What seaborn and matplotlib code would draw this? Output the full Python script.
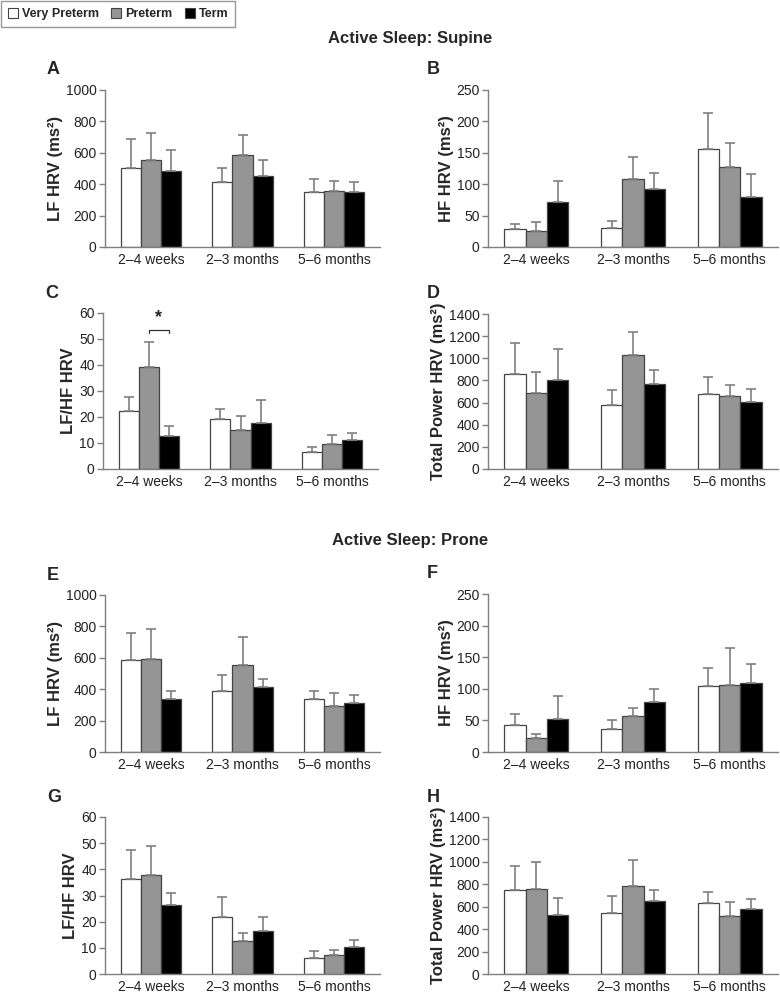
import numpy as np
import pandas as pd
import matplotlib
matplotlib.use("Agg")
import matplotlib.pyplot as plt
import seaborn as sns
from matplotlib.patches import Patch

W, H = 780, 993

ages = ["2–4 weeks", "2–3 months", "5–6 months"]
groups = ["Very Preterm", "Preterm", "Term"]

# means [group][age], sem = upward error bar length
sup_lf = [[506, 411, 351], [557, 583, 357], [485, 451, 351]]
sup_lf_err = [[185, 95, 85], [171, 130, 64], [136, 106, 64]]
sup_hf = [[29, 31, 156], [25.5, 109, 128], [71, 92.5, 80]]
sup_hf_err = [[7, 10.5, 57], [14.5, 35, 38], [34, 25.5, 36.5]]
sup_ratio = [[22.2, 19.2, 6.4], [39.2, 14.9, 9.6], [12.6, 17.7, 11.3]]
sup_ratio_err = [[5.4, 3.9, 1.9], [9.6, 5.4, 3.6], [3.8, 8.7, 2.5]]
sup_tot = [[861, 574, 676], [688, 1032, 658], [808, 772, 607]]
sup_tot_err = [[279, 144, 156], [191, 203, 105], [278, 122, 117]]

pro_lf = [[589, 387, 340], [591, 553, 291], [340, 411, 315]]
pro_lf_err = [[166, 102, 49], [194, 177, 86], [51, 57, 51]]
pro_hf = [[43.3, 37, 104], [22.7, 56.6, 105.7], [52.9, 79.3, 108.4]]
pro_hf_err = [[16.4, 13.2, 29], [6.3, 13.7, 59.3], [35.9, 21.1, 31.1]]
pro_ratio = [[36.4, 21.8, 6.1], [37.7, 12.5, 7.1], [26.4, 16.6, 10.3]]
pro_ratio_err = [[10.9, 7.5, 2.6], [11.1, 3.2, 1.9], [4.4, 5.1, 2.6]]
pro_tot = [[752, 544, 633], [758, 782, 520], [529, 648, 580]]
pro_tot_err = [[208, 155, 101], [238, 238, 125], [149, 104, 89]]

sns.set_theme(style="white")
plt.rcParams["font.family"] = ["Liberation Sans Narrow", "Liberation Sans", "DejaVu Sans"]

colors = {"Very Preterm": "#ffffff", "Preterm": "#959595", "Term": "#000000"}
GRAY = "#7f7f7f"

fig = plt.figure(figsize=(W / 100, H / 100), dpi=100)


def px_axes(left, top, right, bottom):
    return fig.add_axes([left / W, 1 - bottom / H, (right - left) / W, (bottom - top) / H])


def panel(box, vals, errs, ymax, ystep, ylabel, letter, right=False):
    ax = px_axes(*box)
    df = pd.DataFrame([(a, g, vals[i][j]) for i, g in enumerate(groups)
                       for j, a in enumerate(ages)], columns=["age", "group", "value"])
    sns.barplot(data=df, x="age", y="value", hue="group", order=ages, hue_order=groups,
                palette=colors, width=0.66, errorbar=None, edgecolor="#444444",
                linewidth=0.9, legend=False, ax=ax)
    for cont, e in zip(ax.containers, errs):
        for bar, err in zip(cont, e):
            ax.errorbar(bar.get_x() + bar.get_width() / 2, bar.get_height(),
                        yerr=[[0], [err]], fmt="none", ecolor=GRAY, elinewidth=1.2,
                        capsize=3.5, capthick=1.2, zorder=1)
    ax.set_ylim(0, ymax)
    ax.set_yticks(np.arange(0, ymax + 1, ystep))
    ax.set_xlim(-0.5, 2.5 if right else 2.36)
    ax.set_xlabel("")
    ax.set_ylabel(ylabel, fontsize=12, fontweight="bold", family=["Liberation Sans"],
                  labelpad=2)
    for s in ["top", "right"]:
        ax.spines[s].set_visible(False)
    for s in ["left", "bottom"]:
        ax.spines[s].set_color(GRAY)
        ax.spines[s].set_linewidth(1.0)
    ax.tick_params(axis="x", which="major", length=0, labelsize=10, pad=4, colors="#222222")
    ax.set_xticks([-0.5, 0.5, 1.5, 2.5], minor=True)
    ax.tick_params(axis="x", which="minor", length=5, direction="out", color=GRAY, width=1)
    ax.tick_params(axis="y", length=4, direction="out", color=GRAY, width=1, labelsize=10,
                   pad=2, left=True)
    ax.tick_params(axis="y", colors=GRAY, labelcolor="#222222")
    lx = box[0] - 58 if not right else box[0] - 61
    fig.text(lx / W, 1 - (box[1] - 20) / H, letter, fontsize=13, fontweight="bold",
             family=["Liberation Sans"], ha="left", va="center")
    return ax


panel((105, 90, 380, 247), sup_lf, sup_lf_err, 1000, 200, "LF HRV (ms²)", "A")
panel((488, 90, 778, 247), sup_hf, sup_hf_err, 250, 50, "HF HRV (ms²)", "B", right=True)
axC = panel((103, 313, 378, 469), sup_ratio, sup_ratio_err, 60, 10, "LF/HF HRV", "C")
panel((488, 314, 778, 469), sup_tot, sup_tot_err, 1400, 200, "Total Power HRV (ms²)", "D", right=True)
panel((105, 595, 380, 752), pro_lf, pro_lf_err, 1000, 200, "LF HRV (ms²)", "E")
panel((488, 594, 778, 752), pro_hf, pro_hf_err, 250, 50, "HF HRV (ms²)", "F", right=True)
panel((105, 817, 380, 974), pro_ratio, pro_ratio_err, 60, 10, "LF/HF HRV", "G")
panel((488, 817, 778, 974), pro_tot, pro_tot_err, 1400, 200, "Total Power HRV (ms²)", "H", right=True)

# significance bracket Preterm vs Term at 2-4 weeks
p_bar = axC.containers[1][0]
t_bar = axC.containers[2][0]
x1 = p_bar.get_x() + p_bar.get_width() / 2
x2 = t_bar.get_x() + t_bar.get_width() / 2
axC.plot([x1, x1, x2, x2], [52.2, 53.6, 53.6, 52.2], color="#333333", lw=0.9, clip_on=False)
axC.text((x1 + x2) / 2, 55, "*", ha="center", va="bottom", fontsize=13, fontweight="bold")

fig.text(410 / W, 1 - 39 / H, "Active Sleep: Supine", ha="center", va="center",
         fontsize=12, fontweight="bold", family=["Liberation Sans"])
fig.text(410 / W, 1 - 541 / H, "Active Sleep: Prone", ha="center", va="center",
         fontsize=12, fontweight="bold", family=["Liberation Sans"])

handles = [Patch(facecolor=colors[g], edgecolor="#444444", linewidth=0.8, label=g) for g in groups]
leg = fig.legend(handles=handles, loc="upper left", bbox_to_anchor=(0, 1), ncol=3,
                 frameon=True, fancybox=False, edgecolor=GRAY, handlelength=0.8,
                 handleheight=0.8, handletextpad=0.3, columnspacing=1.0,
                 borderpad=0.55, borderaxespad=0.1,
                 prop={"weight": "bold", "size": 9, "family": "Liberation Sans"})
leg.get_frame().set_linewidth(1.0)

fig.savefig("out.png", dpi=100)
